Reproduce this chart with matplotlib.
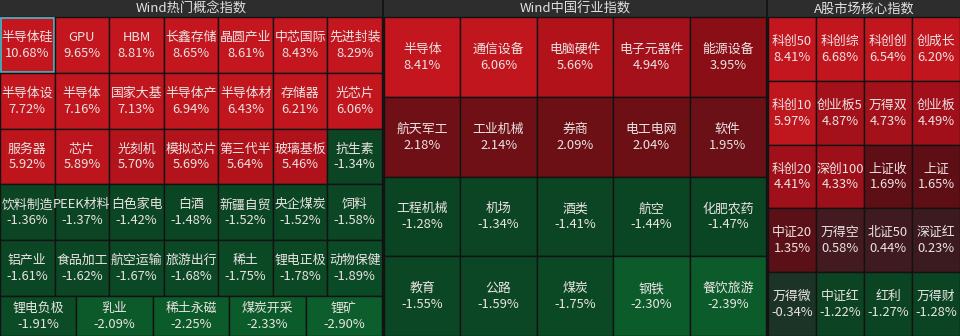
import numpy as np
import matplotlib
matplotlib.use('Agg')
import matplotlib.pyplot as plt
from matplotlib.patches import Rectangle
from matplotlib.colors import to_rgb

plt.rcParams['font.family'] = ['Noto Sans CJK SC', 'DejaVu Sans']

# Wind热门概念指数
concept_names = ['半导体硅', 'GPU', 'HBM', '长鑫存储', '晶圆产业', '中芯国际', '先进封装',
                 '半导体设', '半导体', '国家大基', '半导体产', '半导体材', '存储器', '光芯片',
                 '服务器', '芯片', '光刻机', '模拟芯片', '第三代半', '玻璃基板', '抗生素',
                 '饮料制造', 'PEEK材料', '白色家电', '白酒', '新疆自贸', '央企煤炭', '饲料',
                 '铝产业', '食品加工', '航空运输', '旅游出行', '稀土', '锂电正极', '动物保健',
                 '锂电负极', '乳业', '稀土永磁', '煤炭开采', '锂矿']
concept_values = [10.68, 9.65, 8.81, 8.65, 8.61, 8.43, 8.29,
                  7.72, 7.16, 7.13, 6.94, 6.43, 6.21, 6.06,
                  5.92, 5.89, 5.70, 5.69, 5.64, 5.46, -1.34,
                  -1.36, -1.37, -1.42, -1.48, -1.52, -1.52, -1.58,
                  -1.61, -1.62, -1.67, -1.68, -1.75, -1.78, -1.89,
                  -1.91, -2.09, -2.25, -2.33, -2.90]

# Wind中国行业指数
industry_names = ['半导体', '通信设备', '电脑硬件', '电子元器件', '能源设备',
                  '航天军工', '工业机械', '券商', '电工电网', '软件',
                  '工程机械', '机场', '酒类', '航空', '化肥农药',
                  '教育', '公路', '煤炭', '钢铁', '餐饮旅游']
industry_values = [8.41, 6.06, 5.66, 4.94, 3.95,
                   2.18, 2.14, 2.09, 2.04, 1.95,
                   -1.28, -1.34, -1.41, -1.44, -1.47,
                   -1.55, -1.59, -1.75, -2.30, -2.39]

# A股市场核心指数
core_names = ['科创50', '科创综', '科创创', '创成长',
              '科创10', '创业板5', '万得双', '创业板',
              '科创20', '深创100', '上证收', '上证',
              '中证20', '万得空', '北证50', '深证红',
              '万得微', '中证红', '红利', '万得财']
core_values = [8.41, 6.68, 6.54, 6.20,
               5.97, 4.87, 4.73, 4.49,
               4.41, 4.33, 1.69, 1.65,
               1.35, 0.58, 0.44, 0.23,
               -0.34, -1.22, -1.27, -1.28]

# colour scale (value -> colour)
pos_stops = [0.0, 0.3, 0.6, 1.35, 1.7, 2.0, 3.95, 4.4, 4.95, 5.7, 6.0, 11.0]
pos_cols = ['#3a1d22', '#3c1a20', '#421a20', '#5a1016', '#5e0f15', '#6c1016',
            '#8a0e16', '#a0101a', '#a5111a', '#b3131b', '#c2161e', '#c4161e']
neg_stops = [0.0, 0.34, 1.25, 1.9, 2.1, 3.0]
neg_cols = ['#2a2a26', '#1c3428', '#0b4423', '#0b4a26', '#0c5a2a', '#0c5e2c']


def cell_color(v):
    if v >= 0:
        stops, cols = pos_stops, pos_cols
    else:
        stops, cols = neg_stops, neg_cols
    rgb = np.array([to_rgb(c) for c in cols])
    a = abs(v)
    return tuple(np.interp(a, stops, rgb[:, i]) for i in range(3))


fig = plt.figure(figsize=(9.6, 3.36), dpi=100, facecolor='#151515')
ax = fig.add_axes([0, 0, 1, 1])
ax.set_xlim(0, 960)
ax.set_ylim(336, 0)
ax.axis('off')

HEAD = 17


def draw_panel(x0, x1, title, names, values, row_counts, row_heights, selected=None):
    ax.add_patch(Rectangle((x0, 0), x1 - x0, HEAD, facecolor='#2d2d2d', edgecolor='none'))
    ax.text((x0 + x1) / 2, HEAD / 2 + 0.5, title, ha='center', va='center',
            color='#e2e2e2', fontsize=9.5)
    y = HEAD
    k = 0
    for n, h in zip(row_counts, row_heights):
        w = (x1 - x0) / n
        for j in range(n):
            cx = x0 + j * w
            v = values[k]
            rect = Rectangle((cx, y), w, h, facecolor=cell_color(v),
                             edgecolor='#121212', linewidth=1.0)
            ax.add_patch(rect)
            for txt, dy in ((names[k], -7.5), ('%.2f%%' % v, 8.5)):
                t = ax.text(cx + w / 2, y + h / 2 + dy, txt, ha='center', va='center',
                            color='#ebe3e3', fontsize=9.3)
                t.set_clip_path(rect)
            if selected == k:
                ax.add_patch(Rectangle((cx + 1, y + 1), w - 2, h - 2, facecolor='none',
                                       edgecolor='#4fb0bf', linewidth=1.3))
            k += 1
        y += h


draw_panel(0, 382, 'Wind热门概念指数', concept_names, concept_values,
           [7, 7, 7, 7, 7, 5], [55.8] * 5 + [40], selected=0)
draw_panel(384, 766, 'Wind中国行业指数', industry_names, industry_values,
           [5, 5, 5, 5], [79.75] * 4)
draw_panel(768, 960, 'A股市场核心指数', core_names, core_values,
           [4, 4, 4, 4, 4], [63.8] * 5)

fig.savefig('out.png', dpi=100, facecolor=fig.get_facecolor())
